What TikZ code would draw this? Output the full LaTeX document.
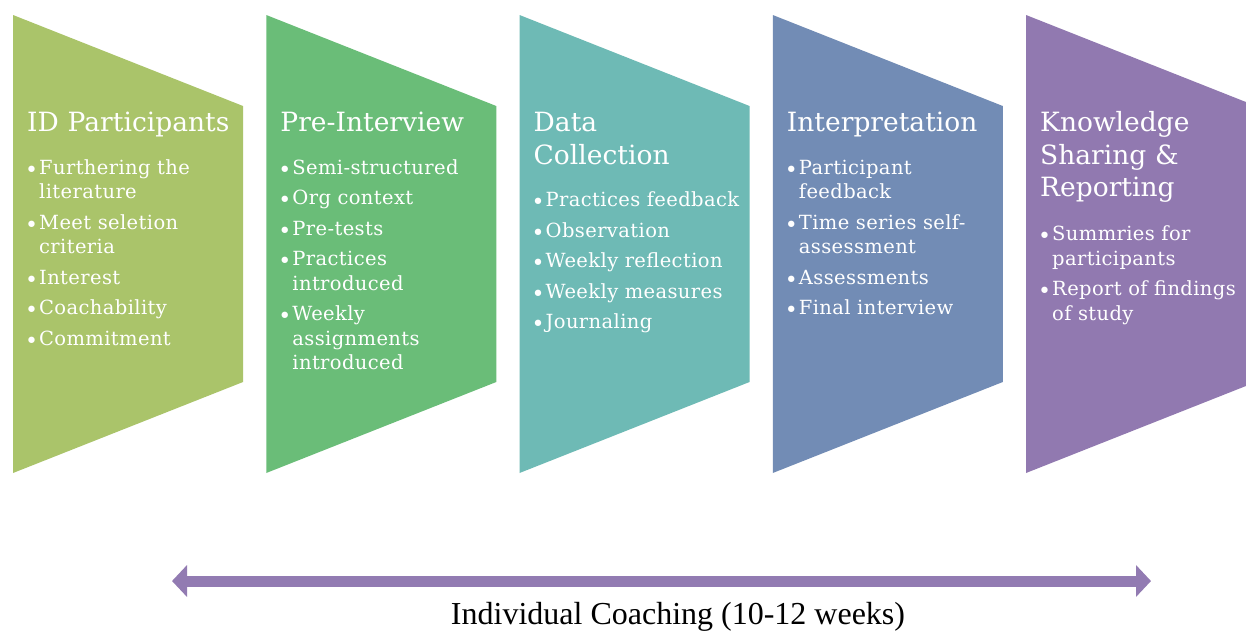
\documentclass[tikz,border=0pt]{standalone}
\usepackage{fontspec}
\usepackage{tikz}
\usetikzlibrary{arrows.meta, positioning}
\setmainfont{Liberation Serif}
\newfontfamily\stagehead{DejaVu Serif}
\newfontfamily\stagebody{DejaVu Serif}[LetterSpace=2]
\definecolor{colA}{RGB}{170, 196, 106}
\definecolor{colB}{RGB}{106, 189, 120}
\definecolor{colC}{RGB}{110, 186, 181}
\definecolor{colD}{RGB}{114, 140, 181}
\definecolor{colE}{RGB}{145, 121, 176}
\definecolor{colSpan}{RGB}{146, 123, 178}
% one bullet point, wrapped lines hang under the text
\newcommand{\stagept}[1]{\setlength{\parskip}{6pt}\hangindent=14pt\hangafter=1\noindent
    \makebox[14pt][l]{\raisebox{-3pt}{\fontsize{22}{22}\selectfont\textbullet}}#1\par}

\begin{document}
\begin{tikzpicture}[x=1pt, y=-1pt,
    stagetitle/.style={anchor=base west, inner sep=0pt, text=white, text width=225pt, align=left,
        font=\stagehead\fontsize{26.5}{32.5}\selectfont},
    stagelist/.style={anchor=base west, inner sep=0pt, text=white, text width=225pt, align=left,
        font=\stagebody\fontsize{19.5}{24.5}\selectfont},
    spanarrow/.style={colSpan, line width=11pt,
        arrows={Triangle[length=15pt, width=31pt]-Triangle[length=15pt, width=31pt]}}]
    \useasboundingbox (0,0) rectangle (1246,630);
    \clip (0,0) rectangle (1246,630);
    \fill[white] (0,0) rectangle (1246,630);

    % --- Stage panels ---
    \foreach \col [count=\i from 0] in {colA,colB,colC,colD,colE}
        \fill[\col] ({13+253.25*\i},15) -- ++(230,91) -- ++(0,276) -- ++(-230,91) -- cycle;

    % --- ID Participants ---
    \node[stagetitle] (ttlA) at (27,131.7) {ID Participants};
    \node[stagelist] (lstA) at (25,174) {%
        \stagept{Furthering the\newline literature}
        \stagept{Meet seletion\newline criteria}
        \stagept{Interest}
        \stagept{Coachability}
        \stagept{Commitment}};

    % --- Pre-Interview ---
    \node[stagetitle] (ttlB) at (280.25,131.7) {Pre-Interview};
    \node[stagelist] (lstB) at (278.25,174) {%
        \stagept{Semi-structured}
        \stagept{Org context}
        \stagept{Pre-tests}
        \stagept{Practices\newline introduced}
        \stagept{Weekly\newline assignments\newline introduced}};

    % --- Data Collection ---
    \node[stagetitle] (ttlC) at (533.5,131.7) {Data\\Collection};
    \node[stagelist] (lstC) at (531.5,206.5) {%
        \stagept{Practices feedback}
        \stagept{Observation}
        \stagept{Weekly reflection}
        \stagept{Weekly measures}
        \stagept{Journaling}};

    % --- Interpretation ---
    \node[stagetitle] (ttlD) at (786.75,131.7) {Interpretation};
    \node[stagelist] (lstD) at (784.75,174) {%
        \stagept{Participant\newline feedback}
        \stagept{Time series self-\newline assessment}
        \stagept{Assessments}
        \stagept{Final interview}};

    % --- Knowledge Sharing & Reporting ---
    \node[stagetitle] (ttlE) at (1040,131.7) {Knowledge\\Sharing \&\\Reporting};
    \node[stagelist] (lstE) at (1038,240.5) {%
        \stagept{Summries for\newline participants}
        \stagept{Report of findings\newline of study}};

    % --- Coaching span ---
    \coordinate (spanL) at (172,581);
    \coordinate (spanR) at (1151,581);
    \draw[spanarrow] (spanL) -- (spanR);
    \node[anchor=base, font=\fontsize{32}{36}\selectfont] (span) at (678,624) {Individual Coaching (10-12 weeks)};
\end{tikzpicture}
\end{document}
